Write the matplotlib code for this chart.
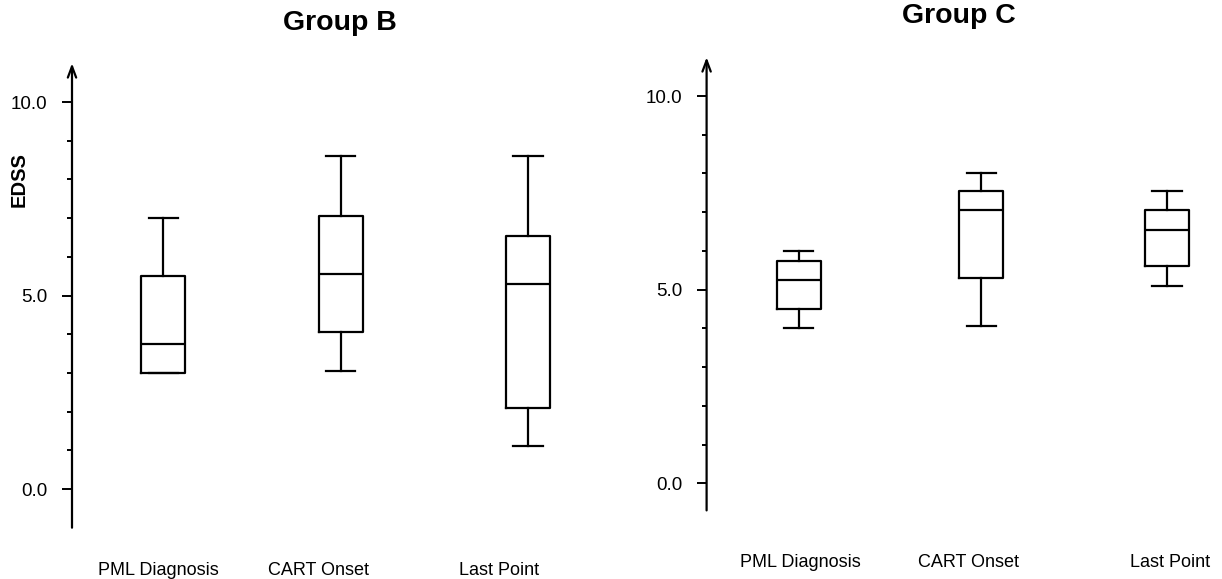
import matplotlib
matplotlib.use("Agg")
import matplotlib.pyplot as plt
from matplotlib.transforms import blended_transform_factory

plt.rcParams['font.family'] = ['Liberation Sans', 'DejaVu Sans']

# ---- data ----
timepoints = ["PML Diagnosis", "CART Onset", "Last Point"]
groups = ["Group B", "Group C"]
ylabel = "EDSS"

b_whislo = [3.0, 3.05, 1.1]
b_q1 = [3.0, 4.05, 2.1]
b_med = [3.75, 5.55, 5.3]
b_q3 = [5.5, 7.05, 6.55]
b_whishi = [7.0, 8.6, 8.6]

c_whislo = [4.0, 4.05, 5.1]
c_q1 = [4.5, 5.3, 5.6]
c_med = [5.25, 7.05, 6.55]
c_q3 = [5.75, 7.55, 7.05]
c_whishi = [6.0, 8.0, 7.55]

major_ticks = [0, 5, 10]
major_labels = ["0.0", "5.0", "10.0"]


def stats(lo, q1, med, q3, hi, labels):
    return [dict(whislo=a, q1=b, med=c, q3=d, whishi=e, fliers=[], label=l)
            for a, b, c, d, e, l in zip(lo, q1, med, q3, hi, labels)]


W, H = 1222, 579
fig = plt.figure(figsize=(W / 100, H / 100), dpi=100)

# axes rectangles in pixel coords
axB = fig.add_axes([72 / W, 1 - 527.7 / H, 529 / W, (527.7 - 63.3) / H])
axC = fig.add_axes([706.6 / W, 1 - 510.4 / H, 497 / W, (510.4 - 57.3) / H])

lw = 1.6
props = dict(color='black', linewidth=lw)

configs = [
    (axB, stats(b_whislo, b_q1, b_med, b_q3, b_whishi, timepoints), (-1.0, 11.0),
     [1, 1.973, 3], 3.4, [0.973, 1.849, 2.841], 575, groups[0], (340, 23)),
    (axC, stats(c_whislo, c_q1, c_med, c_q3, c_whishi, timepoints), (-0.7, 11.0),
     [1, 1.992, 3], 3.2, [1.007, 1.924, 3.018], 567, groups[1], (959, 16)),
]

for ax, st, ylim, pos, xmax, lab_x, lab_base, title, tpos in configs:
    ax.bxp(st, positions=pos, widths=0.24, capwidths=0.16, showfliers=False,
           boxprops=props, whiskerprops=props, capprops=props, medianprops=props)
    ax.set_xlim(0.5, xmax)
    ax.set_ylim(*ylim)
    for s in ['top', 'right', 'bottom', 'left']:
        ax.spines[s].set_visible(False)
    ax.set_xticks([])
    ax.set_yticks(major_ticks)
    ax.set_yticklabels(major_labels, fontsize=13.5)
    ax.set_yticks(range(0, 11), minor=True)
    ax.tick_params(axis='y', which='major', length=7.2, width=1.4, pad=10.5)
    ax.tick_params(axis='y', which='minor', length=3.6, width=1.4)
    ax.annotate('', xy=(0, 1), xycoords='axes fraction', xytext=(0, 0),
                textcoords='axes fraction',
                arrowprops=dict(arrowstyle='->,head_length=0.8,head_width=0.3',
                                color='black', lw=1.6, mutation_scale=10,
                                shrinkA=0, shrinkB=0))
    tr = blended_transform_factory(ax.transData, fig.transFigure)
    for x, t in zip(lab_x, timepoints):
        ax.text(x, 1 - lab_base / H, t, transform=tr, ha='center', va='baseline',
                fontsize=13)
    fig.text(tpos[0] / W, 1 - tpos[1] / H, title, ha='center', va='center',
             fontsize=20.5, fontweight='bold')

fig.text(19 / W, 1 - 180 / H, ylabel, rotation=90, ha='center', va='center',
         fontsize=14.5, fontweight='bold')

fig.savefig('out.png', dpi=100)
